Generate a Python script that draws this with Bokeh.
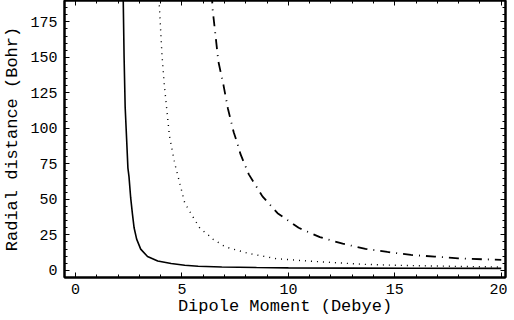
from bokeh.plotting import figure
from bokeh.models import LinearAxis, Range1d, FixedTicker, CustomJSTickFormatter
from bokeh.embed import file_html
from bokeh.resources import INLINE

# Solid curve
solid_x = [2.22, 2.24, 2.28, 2.33, 2.40, 2.46, 2.51, 2.59, 2.67, 2.75, 2.87, 3.06, 3.38, 3.86, 4.49, 5.13, 5.76, 6.87, 8.5, 10.0, 13.0, 16.0, 20.0]
solid_y = [200, 190, 150, 115, 92, 72, 66, 51, 40, 30, 22, 15, 9.8, 6.6, 4.8, 3.6, 2.9, 2.4, 2.0, 1.8, 1.6, 1.5, 1.4]

# Dotted curve
dot_x = [3.90, 3.94, 4.06, 4.17, 4.41, 4.65, 4.89, 5.13, 5.60, 5.84, 6.24, 6.40, 7.03, 8.14, 9.41, 11.0, 13.5, 15.0, 16.87, 18.5, 20.0]
dot_y = [195, 185, 151.7, 130.4, 94.8, 75.9, 61.7, 47.4, 35.6, 29.7, 24.9, 22.5, 16.6, 11.9, 8.3, 6.5, 4.3, 3.6, 3.1, 2.7, 2.4]

# Dash-dot curve
dd_x = [6.40, 6.44, 6.71, 6.95, 7.16, 7.43, 7.59, 7.75, 8.14, 8.78, 9.49, 10.48, 11.48, 12.55, 13.62, 14.65, 15.76, 16.87, 17.98, 19.17, 20.0]
dd_y = [195, 183.7, 147, 130.4, 113.8, 97.2, 90.0, 81.8, 67.6, 52.1, 40.3, 30.0, 23.4, 18.8, 15.2, 13.0, 10.9, 9.7, 8.5, 7.8, 7.4]

x_ticks = [0, 5, 10, 15, 20]
y_ticks = [0, 25, 50, 75, 100, 125, 150, 175]
x_title = "Dipole Moment (Debye)"
y_title = "Radial distance (Bohr)"

FONT = "Liberation Mono"

p = figure(width=507, height=318, output_backend="svg", toolbar_location=None,
           x_range=Range1d(-0.52, 20.2), y_range=Range1d(-5, 190),
           min_border_left=62, min_border_right=2, min_border_top=0, min_border_bottom=35)

p.grid.visible = False
p.outline_line_color = "black"
p.outline_line_width = 2
p.background_fill_color = "white"
p.border_fill_color = "white"

p.line(solid_x, solid_y, line_color="black", line_width=1.6)
p.line(dot_x, dot_y, line_color="black", line_width=1.4, line_dash="1 5")
p.line(dd_x, dd_y, line_color="black", line_width=1.8, line_dash="10 6 1 6")

def style_axis(ax, labels=True):
    ax.axis_line_width = 2
    ax.axis_line_color = "black"
    ax.major_tick_in = 5
    ax.major_tick_out = 0
    ax.minor_tick_in = 3
    ax.minor_tick_out = 0
    ax.major_tick_line_color = "black"
    ax.minor_tick_line_color = "black"
    ax.major_label_text_font = FONT
    ax.major_label_text_font_size = "15px"
    ax.major_label_text_color = "black"
    ax.axis_label_text_font = FONT
    ax.axis_label_text_font_size = "17px"
    ax.axis_label_text_font_style = "normal"
    ax.axis_label_text_color = "black"
    if not labels:
        ax.formatter = CustomJSTickFormatter(code="return ''")
        ax.major_label_standoff = 0

xt = FixedTicker(ticks=x_ticks, minor_ticks=list(range(0, 21)))
yt = FixedTicker(ticks=y_ticks, minor_ticks=list(range(0, 190, 5)))

p.xaxis.ticker = xt
p.yaxis.ticker = yt
p.xaxis.axis_label = x_title
p.yaxis.axis_label = y_title
for ax in p.xaxis + p.yaxis:
    style_axis(ax)
p.xaxis.major_label_standoff = 6
p.xaxis.axis_label_standoff = 0
p.yaxis.major_label_standoff = 7
p.yaxis.axis_label_standoff = 5

top = LinearAxis(ticker=FixedTicker(ticks=x_ticks, minor_ticks=list(range(0, 21))))
right = LinearAxis(ticker=FixedTicker(ticks=y_ticks, minor_ticks=list(range(0, 190, 5))))
style_axis(top, labels=False)
style_axis(right, labels=False)
p.add_layout(top, "above")
p.add_layout(right, "right")

open("out.html", "w").write(file_html(p, INLINE))
